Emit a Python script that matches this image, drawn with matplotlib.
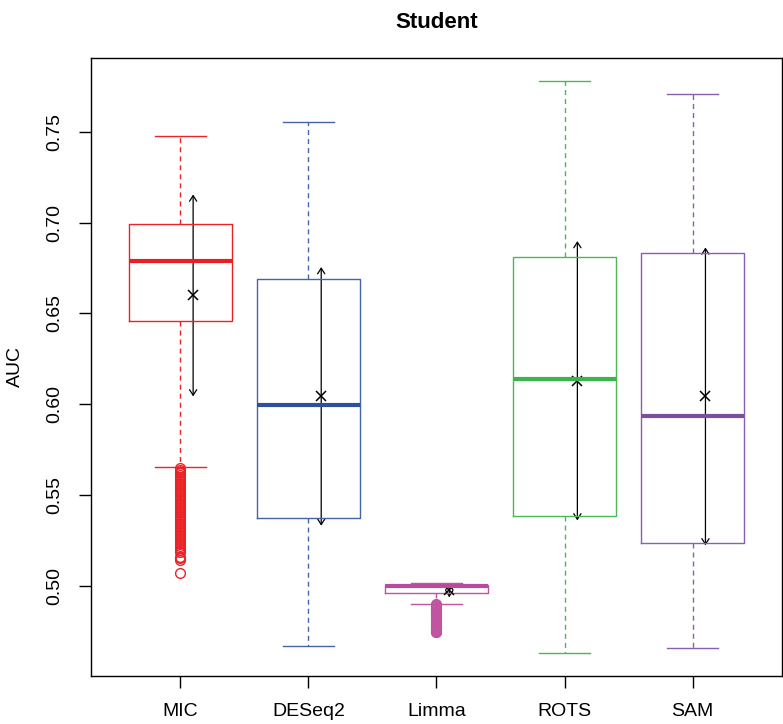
import matplotlib
matplotlib.use("Agg")
import matplotlib.pyplot as plt
from matplotlib.patches import FancyArrowPatch

plt.rcParams['font.family'] = ['Liberation Sans', 'DejaVu Sans']

methods = ['MIC', 'DESeq2', 'Limma', 'ROTS', 'SAM']
colors = ['#EC2227', '#4563AB', '#C153A1', '#4BB755', '#8A5FAB']
median_colors = ['#E91F25', '#2F4E9C', '#BA4A9B', '#3BB44A', '#7D4E9E']

# five-number summaries
whis_lo = [0.5656, 0.4674, 0.4905, 0.4633, 0.4658]
q1 = [0.6460, 0.5376, 0.4962, 0.5387, 0.5238]
med = [0.6786, 0.5998, 0.5000, 0.6140, 0.5936]
q3 = [0.6993, 0.6692, 0.5005, 0.6813, 0.6830]
whis_hi = [0.7478, 0.7555, 0.5020, 0.7780, 0.7709]

# mean and standard deviation (the black arrows)
means = [0.6599, 0.6044, 0.4978, 0.6130, 0.6044]
sds = [0.0555, 0.0711, 0.0039, 0.0768, 0.0819]

mic_out = [0.565, 0.564, 0.563, 0.562, 0.561, 0.560, 0.559, 0.558, 0.557, 0.556,
           0.555, 0.554, 0.553, 0.552, 0.551, 0.550, 0.549, 0.548, 0.547, 0.546,
           0.545, 0.544, 0.543, 0.542, 0.541, 0.540, 0.539, 0.538, 0.537, 0.536,
           0.535, 0.534, 0.533, 0.532, 0.531, 0.530, 0.529, 0.528, 0.527, 0.526,
           0.525, 0.524, 0.523, 0.522, 0.521, 0.520, 0.519, 0.5163, 0.5155,
           0.5146, 0.5074]
limma_out = [0.4900, 0.4895, 0.4890, 0.4885, 0.4880, 0.4875, 0.4870, 0.4865,
             0.4860, 0.4855, 0.4850, 0.4845, 0.4840, 0.4835, 0.4830, 0.4825,
             0.4820, 0.4815, 0.4810, 0.4805, 0.4800, 0.4795, 0.4790, 0.4785,
             0.4780, 0.4775, 0.4770, 0.4765, 0.4760, 0.4755, 0.4750, 0.4747]
fliers = [mic_out, [], limma_out, [], []]

fig = plt.figure(figsize=(7.83, 7.24), dpi=100)
ax = fig.add_axes([0.1158, 0.0667, 0.8833, 0.8535])

for i in range(5):
    stats = [dict(med=med[i], q1=q1[i], q3=q3[i], whislo=whis_lo[i],
                  whishi=whis_hi[i], fliers=fliers[i], label=methods[i])]
    c = colors[i]
    ax.bxp(stats, positions=[i + 1], widths=0.8, capwidths=0.4,
           showfliers=True, manage_ticks=False,
           boxprops=dict(color=c, linewidth=1.0),
           whiskerprops=dict(color=c, linewidth=1.0, linestyle=(0, (3.6, 2.9))),
           capprops=dict(color=c, linewidth=1.0),
           medianprops=dict(color=median_colors[i], linewidth=3.0, solid_capstyle='butt'),
           flierprops=dict(marker='o', markersize=7, markerfacecolor='none',
                           markeredgecolor=c, markeredgewidth=1.0, linestyle='none'))

    xa = i + 1 + 0.1
    arr = FancyArrowPatch((xa, means[i] - sds[i]), (xa, means[i] + sds[i]),
                          arrowstyle='<->,head_length=4,head_width=2.6',
                          mutation_scale=1, shrinkA=0, shrinkB=0,
                          color='black', linewidth=0.9)
    ax.add_patch(arr)
    ax.plot(xa, means[i], marker='x', color='black', markersize=7,
            markeredgewidth=1.1, linestyle='none')

ax.set_xlim(0.3, 5.7)
ax.set_ylim(0.4508, 0.7906)
ax.set_xticks(range(1, 6))
ax.set_xticklabels(methods)
ax.set_yticks([0.50, 0.55, 0.60, 0.65, 0.70, 0.75])
ax.set_yticklabels(['0.50', '0.55', '0.60', '0.65', '0.70', '0.75'],
                   rotation=90, va='center')
ax.tick_params(axis='both', direction='out', length=8.5, width=1.0,
               labelsize=14, pad=11)
for s in ax.spines.values():
    s.set_linewidth(1.0)

fig.text(15 / 783, 1 - 367 / 724, 'AUC', rotation=90, ha='center', va='center',
         fontsize=14)
fig.text((91 + 782) / 2 / 783, 1 - 22 / 724, 'Student', ha='center', va='center',
         fontsize=16, fontweight='bold')

fig.savefig('out.png', dpi=100)
